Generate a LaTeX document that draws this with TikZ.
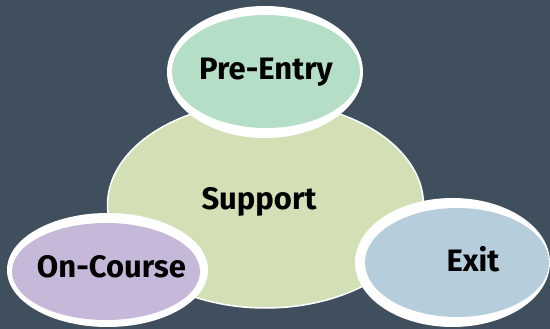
\documentclass[tikz,border=0pt]{standalone}
\usepackage{fontspec}
\setmainfont{Fira Sans}
\newfontfamily\lblfont{Fira Sans}[UprightFont=* Bold]
\definecolor{bg}{HTML}{404F5D}
\definecolor{suppcol}{HTML}{D3E0B6}
\definecolor{precol}{HTML}{B4DEC6}
\definecolor{oncol}{HTML}{C6B8D9}
\definecolor{exitcol}{HTML}{B6CEDB}
\tikzset{
  lbl/.style={anchor=base, inner sep=0pt, font=\lblfont\fontsize{31}{31}\selectfont, text=black},
  halo/.style={fill=white},
}
\begin{document}
\begin{tikzpicture}[x=1pt,y=-1pt]
\useasboundingbox (0,0) rectangle (550,329);
\fill[bg] (0,0) rectangle (550,329);
% central
\filldraw[fill=suppcol, draw=white, line width=1.5pt] (265.5,205) ellipse [x radius=158, y radius=103];
% pre-entry
\fill[halo] (265,72) ellipse [x radius=98, y radius=66];
\fill[precol] (266,71.5) ellipse [x radius=94, y radius=56.5];
% on-course
\fill[halo] (107.5,270) ellipse [x radius=100.5, y radius=57];
\fill[oncol] (106,271.5) ellipse [x radius=94, y radius=48.5];
% exit
\fill[halo] (452.5,262.5) ellipse [x radius=97.5, y radius=64.5];
\fill[exitcol] (457,262.5) ellipse [x radius=92, y radius=54.5];
% labels
\node[lbl] (pre) at (266,80) {Pre-Entry};
\node[lbl] (sup) at (259,210) {Support};
\node[lbl] (onc) at (111.5,277) {On-Course};
\node[lbl] (exit) at (473,272) {Exit};
\end{tikzpicture}
\end{document}
